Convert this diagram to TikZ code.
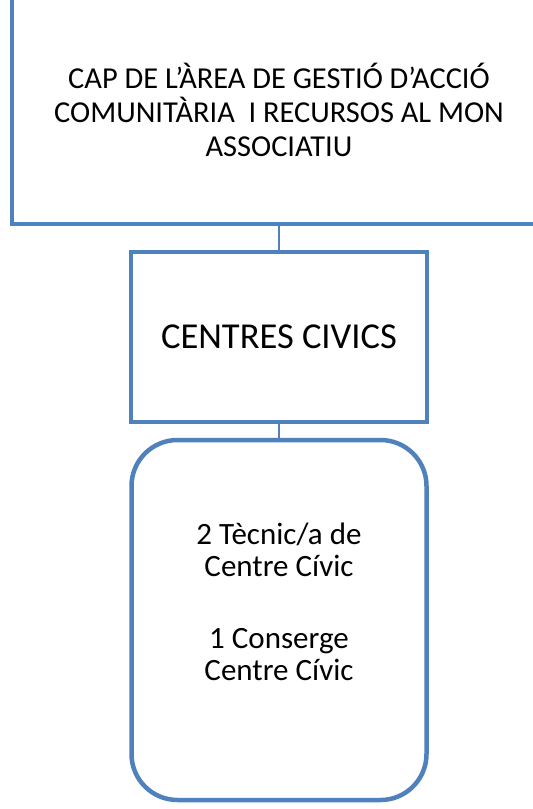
\documentclass[tikz,border=0pt]{standalone}
\usepackage{fontspec}
\setmainfont{Carlito}
\definecolor{boxblue}{RGB}{79,129,189}
\begin{document}
\begin{tikzpicture}[x=1pt,y=-1pt,
  box/.style={draw=boxblue,line width=4.5pt,inner sep=0pt,align=center},
  link/.style={draw=boxblue,line width=2pt}]
\useasboundingbox (0,0) rectangle (533,809);
\begin{scope}
\clip (0,0) rectangle (533,809);
\node[box,minimum width=534pt,minimum height=228pt,font=\fontsize{30.4}{34}\selectfont] (cap) at (279,110)
  {CAP DE L’ÀREA DE GESTIÓ D’ACCIÓ\\COMUNITÀRIA\ \ I RECURSOS AL MON\\ASSOCIATIU};
\end{scope}
\node[box,minimum width=296pt,minimum height=170pt,font=\fontsize{36.5}{42}\selectfont] (cc) at (279,337) {CENTRES CIVICS};
\node[box,rounded corners=46pt,minimum width=295pt,minimum height=360pt] (staff) at (279,620) {};
\node[align=center,font=\fontsize{31}{32}\selectfont,inner sep=0pt] (stafftext) at (279,602)
  {2 Tècnic/a de\\Centre Cívic\\[40pt]1 Conserge\\Centre Cívic};
\draw[link] (cap.south) -- (cc.north);
\draw[link] (cc.south) -- (staff.north);
\end{tikzpicture}
\end{document}
